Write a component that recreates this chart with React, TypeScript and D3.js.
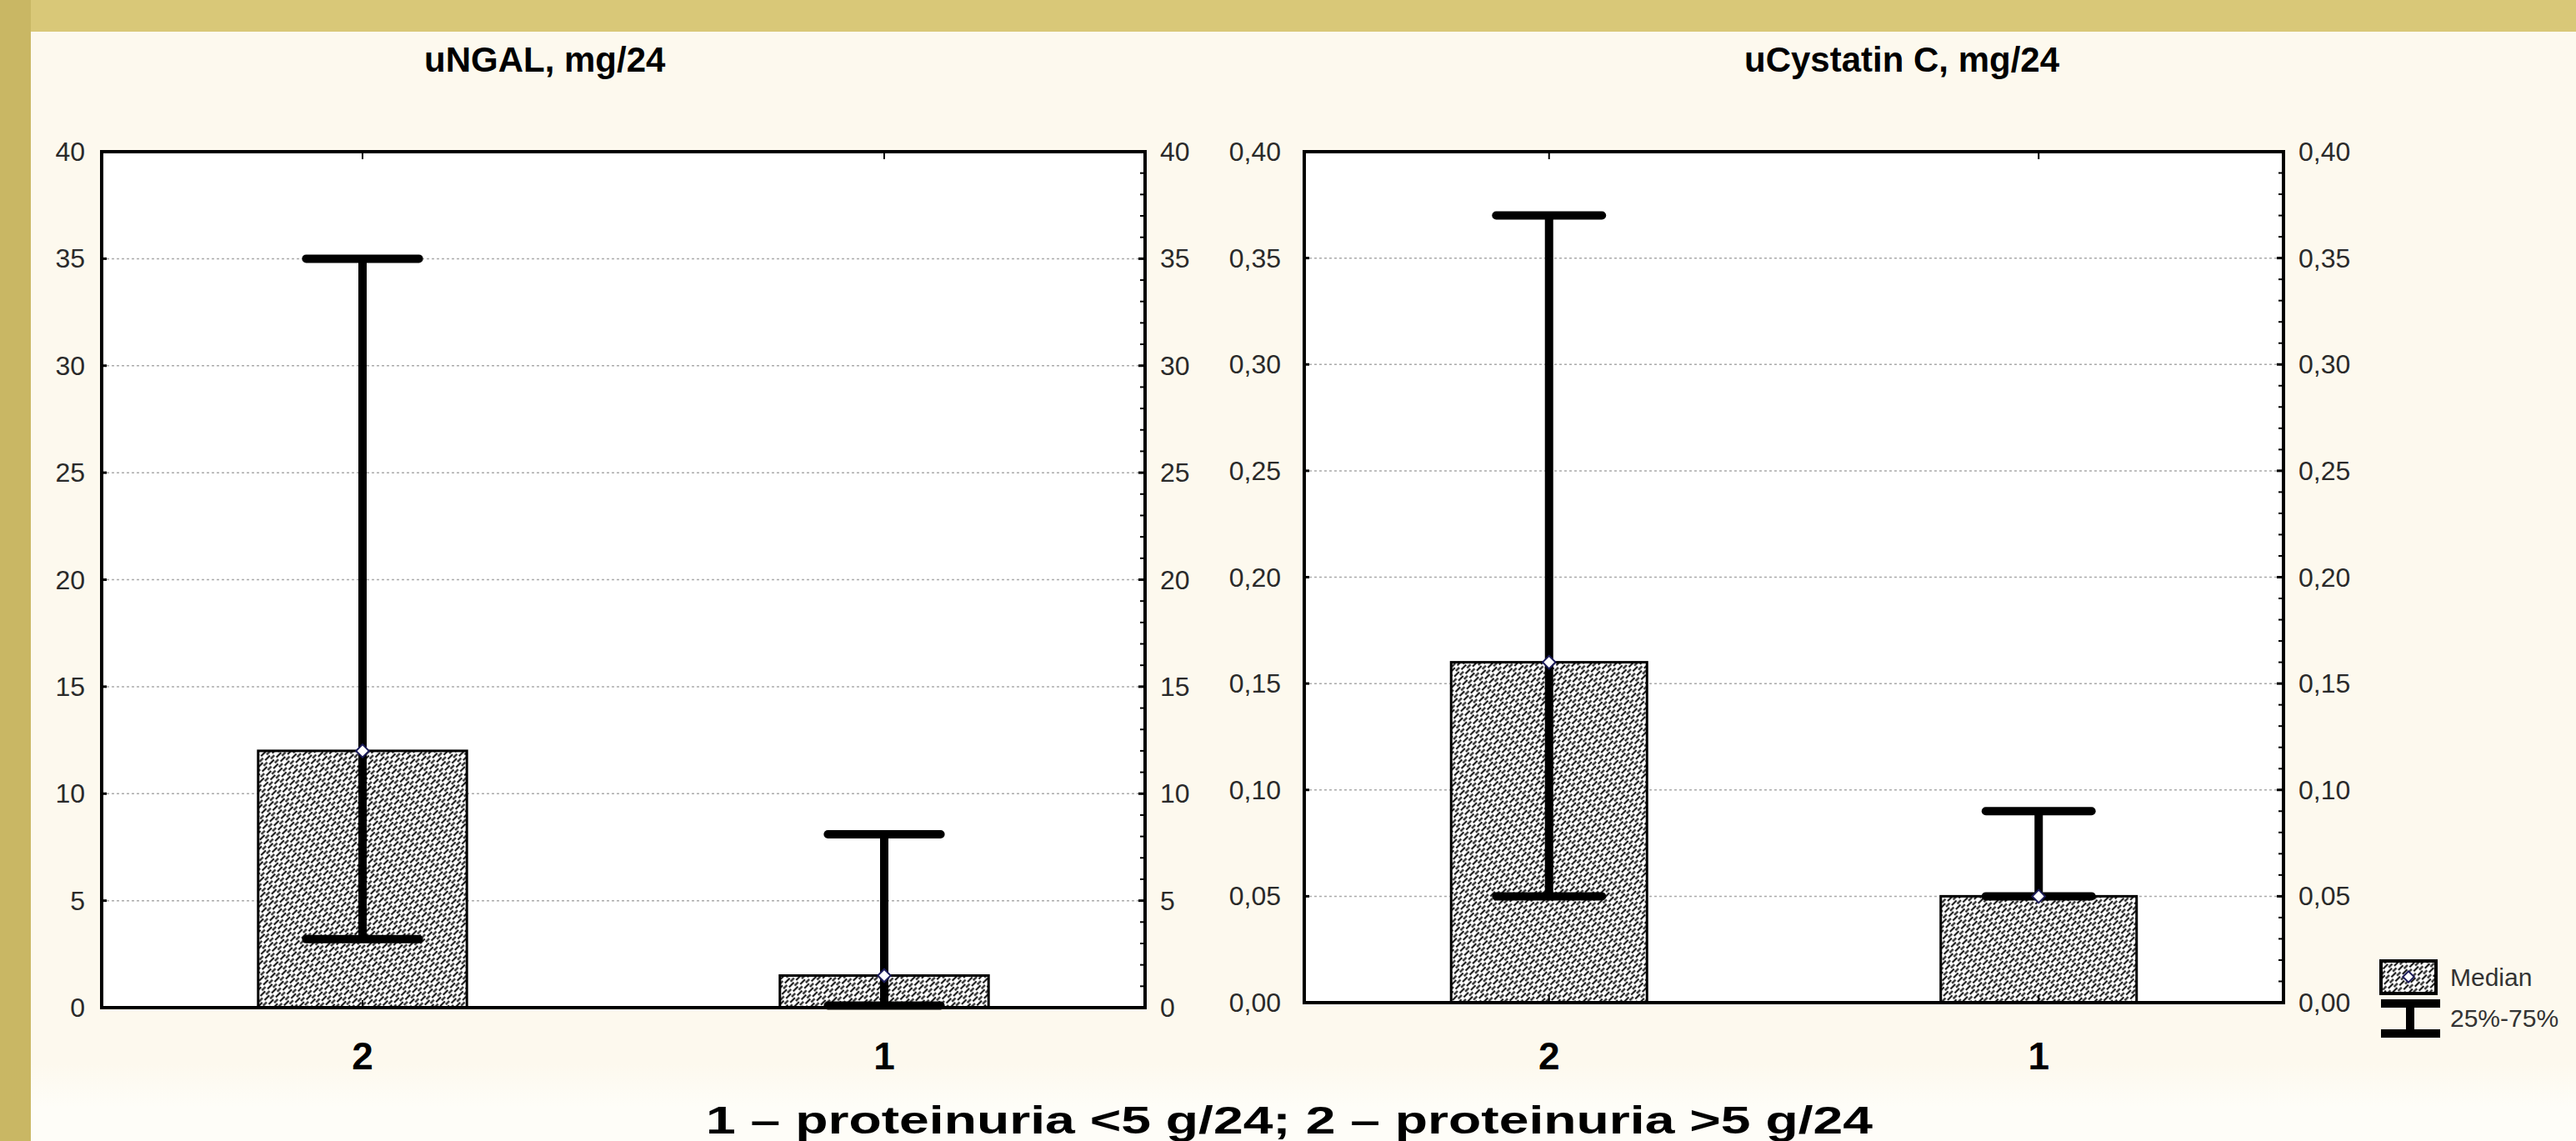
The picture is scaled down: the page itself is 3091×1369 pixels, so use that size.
import * as d3 from "d3";

// group labels, as printed under the bars (left to right)
const groups = ["2", "1"];

// uNGAL, mg/24: median and 25%-75% range
const ngalMedian = [12, 1.5];
const ngalQ1 = [3.2, 0.1];
const ngalQ3 = [35, 8.1];
const ngalTicks = [0, 5, 10, 15, 20, 25, 30, 35, 40];

// uCystatin C, mg/24
const cysMedian = [0.16, 0.05];
const cysQ1 = [0.05, 0.05];
const cysQ3 = [0.37, 0.09];
const cysTicks = [0, 0.05, 0.1, 0.15, 0.2, 0.25, 0.3, 0.35, 0.4];

const titles = ["uNGAL, mg/24", "uCystatin C, mg/24"];
const legendLabels = ["Median", "25%-75%"];
const footnote = "1 – proteinuria <5 g/24; 2 – proteinuria >5 g/24";

const W = 3091;
const H = 1369;
const FONT = "'Liberation Sans', Arial, sans-serif";

function Panel({ x0, x1, y0, y1, max, ticks, minor, fmt, median, q1, q3, title, titleX, leftLabelX, rightLabelX }) {
  const x = d3.scaleBand().domain(groups).range([x0, x1]).paddingInner(0.5).paddingOuter(0.25);
  const y = d3.scaleLinear().domain([0, max]).range([y1, y0]);
  const bw = (x1 - x0) * 0.2;
  const capW = (x1 - x0) * 0.108;
  const minorTicks = d3.range(0, max + minor / 2, minor).map((v) => y(v));
  const marker = d3.symbol(d3.symbolSquare, 120)();
  const cx = (g) => x(g) + x.bandwidth() / 2;

  return (
    <g>
      <text x={titleX} y={86} fontFamily={FONT} fontWeight="bold" fontSize={42} fill="#000">
        {title}
      </text>
      <rect x={x0} y={y0} width={x1 - x0} height={y1 - y0} fill="#fff" />
      {/* grid */}
      {ticks.slice(1, -1).map((t) => (
        <line key={"g" + t} x1={x0} x2={x1} y1={y(t)} y2={y(t)} stroke="#aaa" strokeWidth={1.5} strokeDasharray="3,3" />
      ))}
      {/* bars */}
      {groups.map((g, i) => (
        <rect key={"b" + g} x={cx(g) - bw / 2} y={y(median[i])} width={bw} height={y1 - y(median[i])}
          fill="url(#hatch)" stroke="#000" strokeWidth={3} />
      ))}
      {/* whiskers */}
      {groups.map((g, i) => (
        <g key={"w" + g} stroke="#000" strokeWidth={10} strokeLinecap="round">
          <line x1={cx(g)} x2={cx(g)} y1={y(q1[i])} y2={y(q3[i])} strokeLinecap="butt" />
          <line x1={cx(g) - capW / 2} x2={cx(g) + capW / 2} y1={y(q3[i])} y2={y(q3[i])} />
          <line x1={cx(g) - capW / 2} x2={cx(g) + capW / 2} y1={y(q1[i])} y2={y(q1[i])} />
        </g>
      ))}
      {groups.map((g, i) => (
        <path key={"m" + g} d={marker} transform={`translate(${cx(g)},${y(median[i])}) rotate(45)`}
          fill="#fff" stroke="#1c1c5a" strokeWidth={2} />
      ))}
      {/* frame */}
      <rect x={x0} y={y0} width={x1 - x0} height={y1 - y0} fill="none" stroke="#000" strokeWidth={4} />
      {/* ticks */}
      {ticks.map((t) => (
        <g key={"t" + t} stroke="#000" strokeWidth={3}>
          <line x1={x0} x2={x0 + 6} y1={y(t)} y2={y(t)} />
          <line x1={x1 - 8} x2={x1} y1={y(t)} y2={y(t)} />
        </g>
      ))}
      {minorTicks.map((v, i) => (
        <line key={"n" + i} x1={x1 - 6} x2={x1} y1={v} y2={v} stroke="#000" strokeWidth={2} />
      ))}
      {groups.map((g) => (
        <g key={"c" + g} stroke="#000" strokeWidth={2}>
          <line x1={cx(g)} x2={cx(g)} y1={y0} y2={y0 + 9} />
          <line x1={cx(g)} x2={cx(g)} y1={y1} y2={y1 - 9} />
        </g>
      ))}
      {/* tick labels */}
      {ticks.map((t) => (
        <g key={"l" + t} fontFamily={FONT} fontSize={32} fill="#2a2a2a">
          <text x={leftLabelX} y={y(t)} textAnchor="end" dominantBaseline="central">{fmt(t)}</text>
          <text x={rightLabelX} y={y(t)} textAnchor="start" dominantBaseline="central">{fmt(t)}</text>
        </g>
      ))}
      {groups.map((g) => (
        <text key={"x" + g} x={cx(g)} y={1283} textAnchor="middle" fontFamily={FONT} fontWeight="bold" fontSize={46} fill="#000">
          {g}
        </text>
      ))}
    </g>
  );
}

export default function App() {
  const comma = (d) => d3.format(".2f")(d).replace(".", ",");
  const legendMarker = d3.symbol(d3.symbolSquare, 90)();
  return (
    <svg width={W} height={H} style={{ position: "absolute", left: 0, top: 0 }}>
      <defs>
        <pattern id="hatch" width="12" height="7" patternUnits="userSpaceOnUse" patternTransform="rotate(-45)">
          <rect width="12" height="7" fill="#fff" />
          <line x1="0" y1="2" x2="8" y2="2" stroke="#1a1a1a" strokeWidth="2.2" />
          <line x1="6" y1="5.5" x2="12" y2="5.5" stroke="#1a1a1a" strokeWidth="2.2" />
        </pattern>
        <linearGradient id="paper" x1="0" y1="0" x2="0" y2="1">
          <stop offset="0" stopColor="#fdf9ee" />
          <stop offset="0.93" stopColor="#fdf9ee" />
          <stop offset="0.97" stopColor="#fefdf8" />
        </linearGradient>
      </defs>
      <rect width={W} height={H} fill="#d9c878" />
      <rect x={0} y={0} width={37} height={H} fill="#c9b764" />
      <rect x={37} y={38} width={W - 37} height={H - 38} fill="url(#paper)" />

      <Panel x0={122} x1={1374} y0={182} y1={1209} max={40} ticks={ngalTicks} minor={1}
        fmt={(d) => String(d)} median={ngalMedian} q1={ngalQ1} q3={ngalQ3}
        title={titles[0]} titleX={509} leftLabelX={102} rightLabelX={1392} />
      <Panel x0={1565} x1={2740} y0={182} y1={1203} max={0.4} ticks={cysTicks} minor={0.01}
        fmt={comma} median={cysMedian} q1={cysQ1} q3={cysQ3}
        title={titles[1]} titleX={2093} leftLabelX={1537} rightLabelX={2758} />

      {/* legend */}
      <rect x={2857} y={1153} width={66} height={39} fill="url(#hatch)" stroke="#000" strokeWidth={4} />
      <path d={legendMarker} transform="translate(2890,1172) rotate(45)" fill="#fff" stroke="#1c1c5a" strokeWidth={2} />
      <g stroke="#000" strokeWidth={10}>
        <line x1={2857} x2={2928} y1={1204} y2={1204} />
        <line x1={2892} x2={2892} y1={1204} y2={1240} />
        <line x1={2857} x2={2928} y1={1240} y2={1240} />
      </g>
      <text x={2940} y={1183} fontFamily={FONT} fontSize={30} fill="#333">{legendLabels[0]}</text>
      <text x={2940} y={1232} fontFamily={FONT} fontSize={30} fill="#333">{legendLabels[1]}</text>

      <text x={1547} y={1360} textAnchor="middle" fontFamily={FONT} fontWeight="bold" fontSize={46}
        textLength={1400} lengthAdjust="spacingAndGlyphs" fill="#000">
        {footnote}
      </text>
    </svg>
  );
}
